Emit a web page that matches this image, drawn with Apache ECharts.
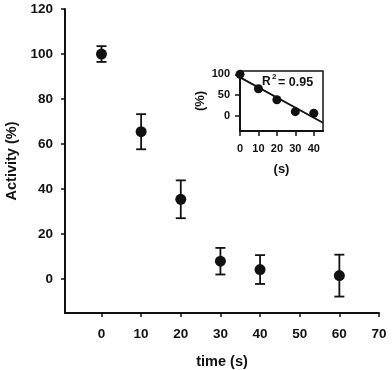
<!DOCTYPE html>
<html lang="en">
<head>
<meta charset="UTF-8" />
<script src="https://cdn.jsdelivr.net/npm/echarts@6/dist/echarts.min.js"></script>
<style>
  body { margin: 0; background: #fff; }
  #main { width: 392px; height: 370px; }
</style>
</head>
<body>
<div id="main"></div>
<script>
  // main panel: activity vs time with error bars
  var times = [0, 10, 20, 30, 40, 60]
  var activity = [100, 65.5, 35.5, 8, 4.3, 1.6]
  var errors = [3.5, 7.8, 8.4, 5.9, 6.4, 9.3]
  var xTicks = [0, 10, 20, 30, 40, 50, 60, 70]
  var yTicks = [0, 20, 40, 60, 80, 100, 120]

  // inset: first 40 s with linear fit
  var insetTimes = [0, 10, 20, 30, 40]
  var insetActivity = [100, 65, 38.6, 9.7, 5.8]
  var insetXTicks = [0, 10, 20, 30, 40]
  var insetYTicks = [0, 50, 100]

  var ink = '#111'
  var font = 'Liberation Sans, Arial, sans-serif'

  // least squares fit for the inset line
  function linFit(xs, ys) {
    var n = xs.length, mx = 0, my = 0
    xs.forEach(function (x, i) { mx += x; my += ys[i] })
    mx /= n; my /= n
    var sxy = 0, sxx = 0
    xs.forEach(function (x, i) {
      sxy += (x - mx) * (ys[i] - my)
      sxx += (x - mx) * (x - mx)
    })
    var b = sxy / sxx
    return { a: my - b * mx, b: b }
  }
  var fit = linFit(insetTimes, insetActivity)
  var fitLine = [0, 45].map(function (x) { return [x, fit.a + fit.b * x] })

  var chart = echarts.init(document.getElementById('main'))

  function axisBase(fontSize, nameSize) {
    return {
      axisLine: { show: true, onZero: false, lineStyle: { color: ink, width: 2 } },
      axisTick: { show: true, inside: false, length: 4, lineStyle: { color: ink, width: 1.5 } },
      axisLabel: { color: ink, fontWeight: 'bold', fontSize: fontSize, fontFamily: font },
      splitLine: { show: false },
      nameTextStyle: { color: ink, fontWeight: 'bold', fontSize: nameSize, fontFamily: font }
    }
  }

  function errRender(params, api) {
    var x = api.value(0)
    var top = api.coord([x, api.value(2)])
    var bot = api.coord([x, api.value(1)])
    var w = 5
    var st = { stroke: ink, lineWidth: 1.8 }
    return {
      type: 'group',
      children: [
        { type: 'line', shape: { x1: top[0], y1: top[1], x2: bot[0], y2: bot[1] }, style: st },
        { type: 'line', shape: { x1: top[0] - w, y1: top[1], x2: top[0] + w, y2: top[1] }, style: st },
        { type: 'line', shape: { x1: bot[0] - w, y1: bot[1], x2: bot[0] + w, y2: bot[1] }, style: st }
      ]
    }
  }

  var mainX = echarts.util.merge(axisBase(13.5, 14.5), {
    type: 'value', gridIndex: 0, min: -9.2, max: 70,
    name: 'time (s)', nameLocation: 'middle', nameGap: 41,
    axisTick: { customValues: xTicks },
    axisLabel: { customValues: xTicks, margin: 14 }
  }, true)
  var mainY = echarts.util.merge(axisBase(13.5, 14.5), {
    type: 'value', gridIndex: 0, min: -15, max: 120,
    name: 'Activity (%)', nameLocation: 'middle', nameGap: 45,
    axisTick: { customValues: yTicks },
    axisLabel: { customValues: yTicks, margin: 12 }
  }, true)
  var insetX = echarts.util.merge(axisBase(11, 13), {
    type: 'value', gridIndex: 1, min: 0, max: 45,
    name: '(s)', nameLocation: 'middle', nameGap: 32,
    axisTick: { customValues: insetXTicks, length: 5 },
    axisLabel: { customValues: insetXTicks, margin: 12 }
  }, true)
  var insetY = echarts.util.merge(axisBase(11, 13), {
    type: 'value', gridIndex: 1, min: -37, max: 108,
    name: '(%)', nameLocation: 'middle', nameGap: 33,
    axisTick: { customValues: insetYTicks, length: 5 },
    axisLabel: { customValues: insetYTicks, margin: 10 }
  }, true)

  chart.setOption({
    animation: false,
    backgroundColor: '#fff',
    grid: [
      { left: 65, right: 13, top: 9, bottom: 57, outerBoundsMode: 'none', containLabel: false },
      { left: 240, top: 71, width: 83, height: 60, show: true, borderColor: ink, borderWidth: 1.5,
        outerBoundsMode: 'none', containLabel: false }
    ],
    xAxis: [mainX, insetX],
    yAxis: [mainY, insetY],
    graphic: [
      { type: 'text', left: 262, top: 76, style: { text: 'R', fill: ink, font: 'bold 12px ' + font } },
      { type: 'text', left: 272, top: 73, style: { text: '2', fill: ink, font: 'bold 8px ' + font } },
      { type: 'text', left: 278, top: 76, style: { text: '= 0.95', fill: ink, font: 'bold 12.5px ' + font } }
    ],
    series: [
      {
        type: 'custom', xAxisIndex: 0, yAxisIndex: 0,
        renderItem: errRender,
        encode: { x: 0, y: [1, 2] },
        data: times.map(function (t, i) { return [t, activity[i] - errors[i], activity[i] + errors[i]] }),
        z: 2
      },
      {
        type: 'scatter', xAxisIndex: 0, yAxisIndex: 0,
        symbolSize: 11, itemStyle: { color: ink, opacity: 1 },
        data: times.map(function (t, i) { return [t, activity[i]] }),
        z: 3
      },
      {
        type: 'line', xAxisIndex: 1, yAxisIndex: 1,
        data: fitLine, showSymbol: false,
        lineStyle: { color: ink, width: 1.8 },
        z: 2
      },
      {
        type: 'scatter', xAxisIndex: 1, yAxisIndex: 1,
        symbolSize: 9, itemStyle: { color: ink, opacity: 1 },
        data: insetTimes.map(function (t, i) { return [t, insetActivity[i]] }),
        z: 3
      }
    ]
  })
</script>
</body>
</html>
